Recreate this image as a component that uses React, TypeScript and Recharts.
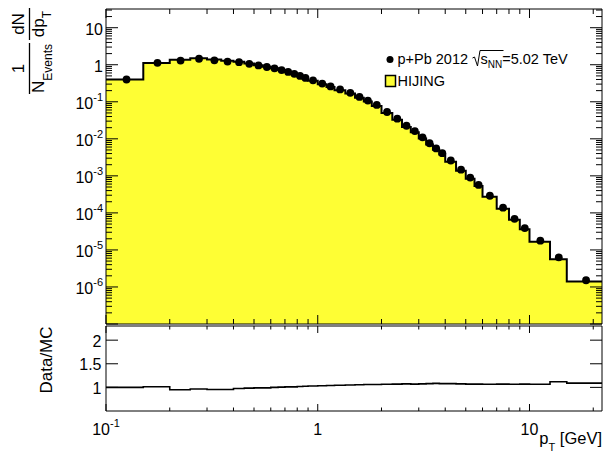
import React from "react";
import { ComposedChart, Area, Scatter, Line, XAxis, YAxis } from "recharts";

// bin edges of the pT histogram [GeV]
const binEdges = [
  0.1, 0.15, 0.2, 0.25, 0.3, 0.35, 0.4, 0.45, 0.5, 0.55, 0.6, 0.65, 0.7, 0.75, 0.8, 0.85, 0.9, 1.0,
  1.1, 1.2, 1.35, 1.5, 1.65, 1.8, 2.0, 2.25, 2.5, 2.75, 3.0, 3.25, 3.5, 3.75, 4.0, 4.5, 5.0, 5.5,
  6.0, 7.0, 8.0, 9.0, 10.0, 12.5, 15.0, 22.0,
];

// p+Pb 2012 data, 1/N dN/dpT per bin
const dataYield = [
  0.4, 1.13, 1.3, 1.45, 1.32, 1.22, 1.17, 1.06, 0.96, 0.87, 0.8, 0.72, 0.64, 0.57, 0.5, 0.44, 0.38,
  0.31, 0.26, 0.215, 0.175, 0.135, 0.108, 0.082, 0.053, 0.035, 0.0225, 0.0162, 0.011, 0.0076,
  0.0055, 0.0041, 0.0026, 0.00147, 0.0009, 0.00057, 0.00029, 0.000138, 6.9e-5, 3.9e-5, 1.78e-5,
  6.3e-6, 1.52e-6,
];

// Data/MC ratio per bin (lower panel)
const dataOverMc = [
  1.0, 1.015, 0.95, 0.965, 0.955, 0.955, 0.975, 0.985, 0.99, 0.99, 1.0, 1.005, 1.01, 1.01, 1.02,
  1.025, 1.03, 1.035, 1.04, 1.045, 1.05, 1.055, 1.06, 1.06, 1.065, 1.07, 1.075, 1.07, 1.075, 1.08,
  1.085, 1.08, 1.08, 1.075, 1.07, 1.07, 1.065, 1.07, 1.065, 1.07, 1.065, 1.12, 1.09,
];

const xMajorTicks = [0.1, 1, 10];
const xMinorTicks = [0.2, 0.3, 0.4, 0.5, 0.6, 0.7, 0.8, 0.9, 2, 3, 4, 5, 6, 7, 8, 9, 20];
const yDecades = [1e-7, 1e-6, 1e-5, 1e-4, 1e-3, 1e-2, 0.1, 1, 10];
const yLabelled = [1e-6, 1e-5, 1e-4, 1e-3, 1e-2, 0.1, 1, 10];
const ratioTicks = [1, 1.5, 2];

const X_DOMAIN = [0.1, 22];
const Y_DOMAIN = [1e-7, 32];
const R_DOMAIN = [0.5, 2.3];

const YELLOW = "#fefe34";
const FONT = '"Liberation Sans", Arial, Helvetica, sans-serif';

const hijing = dataYield.map((v, i) => v / dataOverMc[i]);
const last = dataYield.length - 1;
const histRows = binEdges.map((x, i) => ({
  x,
  mc: hijing[Math.min(i, last)],
  ratio: dataOverMc[Math.min(i, last)],
}));
const pointRows = dataYield.map((y, i) => ({ x: (binEdges[i] + binEdges[i + 1]) / 2, y }));

const xTicks = [...xMajorTicks, ...xMinorTicks].sort((a, b) => a - b);
const yTicks = yDecades
  .flatMap((d) => [1, 2, 3, 4, 5, 6, 7, 8, 9].map((k) => d * k))
  .filter((v) => v <= Y_DOMAIN[1]);

const isMajor = (v: number) => Math.abs(Math.log10(v) - Math.round(Math.log10(v))) < 1e-6;
const hasYLabel = (v: number) => yLabelled.some((d) => Math.abs(d - v) / d < 1e-6);

function powLabel(v: number) {
  const e = Math.round(Math.log10(v));
  if (e === 0) return <tspan>1</tspan>;
  if (e === 1) return <tspan>10</tspan>;
  return (
    <>
      <tspan>10</tspan>
      <tspan dy={-8} fontSize={11}>{String(e)}</tspan>
    </>
  );
}

// ROOT-style inward ticks
const bottomTick = (major: number, minor: number, labels: boolean) => (p: any) => {
  const v = p.payload.value;
  const m = isMajor(v);
  return (
    <g>
      <line x1={p.x} x2={p.x} y1={p.y} y2={p.y - (m ? major : minor)} stroke="#000" />
      {labels && m && (
        <text x={p.x} y={p.y + 23.5} textAnchor="middle" fontSize={16} fill="#000">
          {powLabel(v)}
        </text>
      )}
    </g>
  );
};

const topTick = (major: number, minor: number) => (p: any) => {
  const m = isMajor(p.payload.value);
  return <line x1={p.x} x2={p.x} y1={p.y} y2={p.y + (m ? major : minor)} stroke="#000" />;
};

const logLeftTick = (p: any) => {
  const v = p.payload.value;
  const m = isMajor(v);
  return (
    <g>
      <line x1={p.x} x2={p.x + (m ? 12 : 6)} y1={p.y} y2={p.y} stroke="#000" />
      {m && hasYLabel(v) && (
        <text x={p.x - 3} y={p.y + 7.5} textAnchor="end" fontSize={16} fill="#000">
          {powLabel(v)}
        </text>
      )}
    </g>
  );
};

const logRightTick = (p: any) => {
  const m = isMajor(p.payload.value);
  return <line x1={p.x} x2={p.x - (m ? 12 : 6)} y1={p.y} y2={p.y} stroke="#000" />;
};

const ratioLeftTick = (p: any) => (
  <g>
    <line x1={p.x} x2={p.x + 12} y1={p.y} y2={p.y} stroke="#000" />
    <text x={p.x - 4.5} y={p.y + 6.5} textAnchor="end" fontSize={16} fill="#000">
      {String(p.payload.value)}
    </text>
  </g>
);

const ratioRightTick = (p: any) => (
  <line x1={p.x} x2={p.x - 12} y1={p.y} y2={p.y} stroke="#000" />
);

const DataDot = (p: any) => <circle cx={p.cx} cy={p.cy} r={3.9} fill="#000" />;

const axisLine = { stroke: "#000", strokeWidth: 1 };
const common = { tickSize: 0, tickMargin: 0, tickLine: false, axisLine, interval: 0 as const, allowDataOverflow: true };

export default function App() {
  return (
    <div style={{ position: "absolute", left: 0, top: 0, width: 605, height: 453, background: "#fff", fontFamily: FONT }}>
      <div style={{ position: "absolute", left: 0, top: 0 }}>
        <ComposedChart width={605} height={325} data={histRows} margin={{ top: 8, right: 2, bottom: 0, left: 105 }}>
          <Area xAxisId="b" yAxisId="l" type="stepAfter" dataKey="mc" baseValue="dataMin" fill={YELLOW} fillOpacity={1} stroke="#000" strokeWidth={2} dot={false} activeDot={false} isAnimationActive={false} />
          <Scatter xAxisId="b" yAxisId="l" data={pointRows} dataKey="y" fill="#000" shape={DataDot} isAnimationActive={false} />
          <XAxis xAxisId="b" dataKey="x" type="number" scale="log" domain={X_DOMAIN} ticks={xTicks} height={1} tick={bottomTick(9, 5, false)} {...common} />
          <XAxis xAxisId="t" orientation="top" dataKey="x" type="number" scale="log" domain={X_DOMAIN} ticks={xTicks} height={1} tick={topTick(9, 5)} {...common} />
          <YAxis yAxisId="l" type="number" scale="log" domain={Y_DOMAIN} ticks={yTicks} width={1} tick={logLeftTick} {...common} />
          <YAxis yAxisId="r" orientation="right" type="number" scale="log" domain={Y_DOMAIN} ticks={yTicks} width={1} tick={logRightTick} {...common} />
        </ComposedChart>
      </div>
      <div style={{ position: "absolute", left: 0, top: 325 }}>
        <ComposedChart width={605} height={128} data={histRows} margin={{ top: 0, right: 2, bottom: 41, left: 105 }}>
          <Line xAxisId="b" yAxisId="l" type="stepAfter" dataKey="ratio" stroke="#000" strokeWidth={1.6} dot={false} activeDot={false} isAnimationActive={false} />
          <XAxis xAxisId="b" dataKey="x" type="number" scale="log" domain={X_DOMAIN} ticks={xTicks} height={1} tick={bottomTick(7, 3.5, true)} {...common} />
          <XAxis xAxisId="t" orientation="top" dataKey="x" type="number" scale="log" domain={X_DOMAIN} ticks={xTicks} height={1} tick={topTick(7, 3.5)} {...common} />
          <YAxis yAxisId="l" type="number" domain={R_DOMAIN} ticks={ratioTicks} width={1} tick={ratioLeftTick} {...common} />
          <YAxis yAxisId="r" orientation="right" type="number" domain={R_DOMAIN} ticks={ratioTicks} width={1} tick={ratioRightTick} {...common} />
        </ComposedChart>
      </div>
      <svg width={605} height={453} style={{ position: "absolute", left: 0, top: 0, pointerEvents: "none" }} fill="#000">
        {/* y title, upper panel */}
        <g fontSize={17}>
          <text transform="translate(23.5,24) rotate(-90)" textAnchor="middle">dN</text>
          <line x1={29.5} x2={29.5} y1={8} y2={40} stroke="#000" strokeWidth={1.3} />
          <text transform="translate(44,24) rotate(-90)" textAnchor="middle">
            dp<tspan dy={7} fontSize={12}>T</tspan>
          </text>
          <text transform="translate(23.5,68.5) rotate(-90)" textAnchor="middle">1</text>
          <line x1={29.5} x2={29.5} y1={43} y2={94} stroke="#000" strokeWidth={1.3} />
          <text transform="translate(44,68.5) rotate(-90)" textAnchor="middle">
            N<tspan dy={7.5} fontSize={12}>Events</tspan>
          </text>
          <text transform="translate(52,360) rotate(-90)" textAnchor="middle">Data/MC</text>
        </g>
        {/* x title */}
        <text x={602} y={443.5} textAnchor="end" fontSize={16.5}>
          p<tspan dy={7} fontSize={11}>T</tspan>
          <tspan dy={-7}> [GeV]</tspan>
        </text>
        {/* legend */}
        <circle cx={390} cy={59.5} r={3.5} />
        <text x={397.5} y={64} fontSize={14.5}>p+Pb 2012</text>
        <path d="M472.5,58 L474.5,57 L477.5,66 L480,50.5 L503.5,50.5" fill="none" stroke="#000" strokeWidth={1} />
        <text x={480.5} y={64} fontSize={14.5}>
          s<tspan dy={3.5} fontSize={10}>NN</tspan>
          <tspan dy={-3.5}>=5.02 TeV</tspan>
        </text>
        <rect x={385.5} y={75.5} width={10} height={11} fill={YELLOW} stroke="#000" strokeWidth={1.5} />
        <text x={397.5} y={85.5} fontSize={14.5}>HIJING</text>
      </svg>
    </div>
  );
}
